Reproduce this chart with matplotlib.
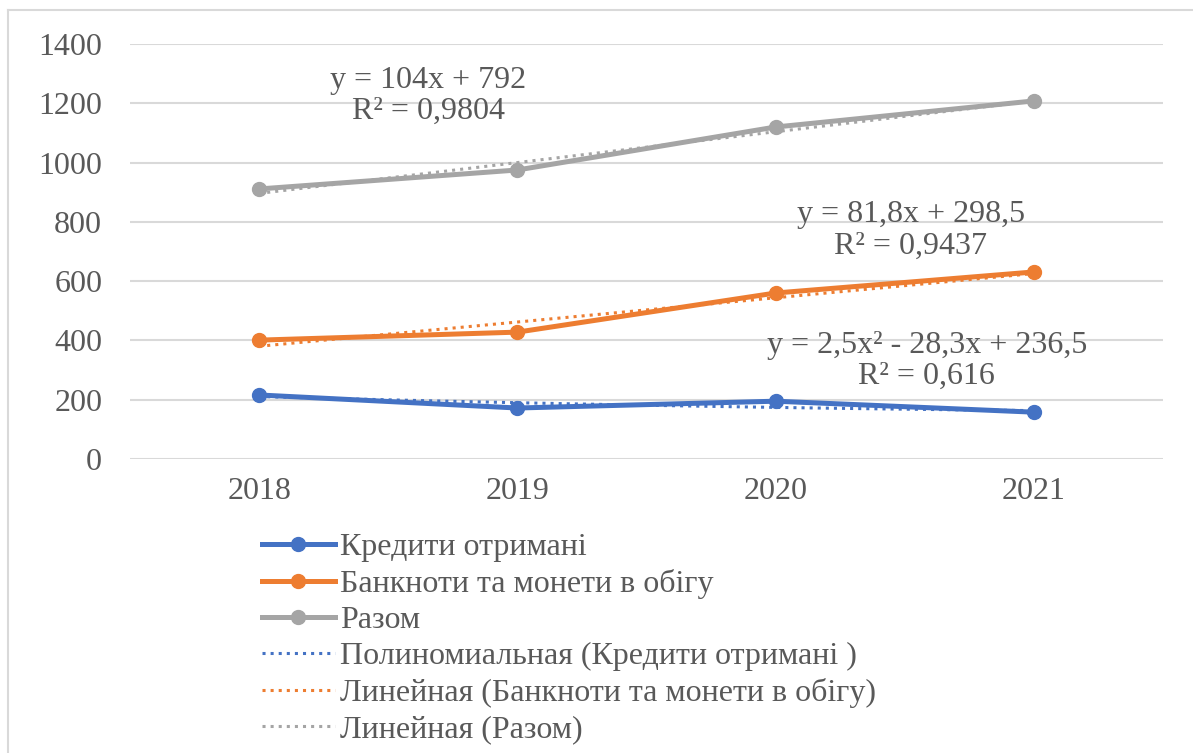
import matplotlib.pyplot as plt
from matplotlib.lines import Line2D
import numpy as np

years = ['2018', '2019', '2020', '2021']
credits = [216, 172, 195, 158]
banknotes = [401, 428, 560, 631]
total = [911, 975, 1120, 1208]

# trendline coefficients as printed on the chart (highest power first)
credits_poly = [2.5, -28.3, 236.5]
banknotes_lin = [81.8, 298.5]
total_lin = [104, 792]

names = ['Кредити отримані', 'Банкноти та монети в обігу', 'Разом',
         'Полиномиальная (Кредити отримані )',
         'Линейная (Банкноти та монети в обігу)', 'Линейная (Разом)']

blue, orange, grey = '#4472C4', '#ED7D31', '#A5A5A5'
txt = '#595959'
fs = 23

plt.rcParams['font.family'] = ['Liberation Serif', 'DejaVu Serif']

fig = plt.figure(figsize=(11.93, 7.53), dpi=100)
ax = fig.add_axes([130 / 1193, 1 - 459 / 753, 1033 / 1193, 415 / 753])

x = np.arange(1, 5)
xs = np.linspace(1, 4, 50)

ax.plot(xs, np.polyval(credits_poly, xs), ':', color=blue, lw=2.2, zorder=2)
ax.plot(xs, np.polyval(banknotes_lin, xs), ':', color=orange, lw=2.2, zorder=2)
ax.plot(xs, np.polyval(total_lin, xs), ':', color=grey, lw=2.2, zorder=2)

ax.plot(x, credits, '-o', color=blue, lw=3.6, ms=10, zorder=3)
ax.plot(x, banknotes, '-o', color=orange, lw=3.6, ms=10, zorder=3)
ax.plot(x, total, '-o', color=grey, lw=3.6, ms=10, zorder=3)

ax.set_xlim(0.5, 4.5)
ax.set_ylim(0, 1400)
ax.set_yticks(range(0, 1401, 200))
ax.set_xticks(x)
ax.set_xticklabels(years)
ax.grid(axis='y', color='#D9D9D9', lw=1.5)
ax.set_axisbelow(True)
for s in ax.spines.values():
    s.set_visible(False)
ax.tick_params(length=0, labelsize=fs, labelcolor=txt)
ax.tick_params(axis='y', pad=20)
ax.tick_params(axis='x', pad=13)

ax.text(1.655, 1225, 'y = 104x + 792\nR² = 0,9804', ha='center', va='center',
        fontsize=fs, color=txt, linespacing=1.1)
ax.text(3.523, 771, 'y = 81,8x + 298,5\nR² = 0,9437', ha='center', va='center',
        fontsize=fs, color=txt, linespacing=1.1)
ax.text(3.585, 331, 'y = 2,5x² - 28,3x + 236,5\nR² = 0,616', ha='center', va='center',
        fontsize=fs, color=txt, linespacing=1.1)

handles = [
    Line2D([], [], color=blue, lw=3.6, marker='o', ms=10),
    Line2D([], [], color=orange, lw=3.6, marker='o', ms=10),
    Line2D([], [], color=grey, lw=3.6, marker='o', ms=10),
    Line2D([], [], color=blue, lw=2.2, ls=':'),
    Line2D([], [], color=orange, lw=2.2, ls=':'),
    Line2D([], [], color=grey, lw=2.2, ls=':'),
]
leg = fig.legend(handles, names, loc='upper left', bbox_to_anchor=(262 / 1193, 1 - 533 / 753),
                 frameon=False, fontsize=fs, handlelength=2.28, handletextpad=0.16,
                 labelspacing=0.21, borderpad=0, borderaxespad=0)
for t in leg.get_texts():
    t.set_color(txt)

# outer chart border (top and left visible)
fig.add_artist(Line2D([8 / 1193, 1], [1 - 10 / 753, 1 - 10 / 753], color='#D9D9D9', lw=1.5))
fig.add_artist(Line2D([8 / 1193, 8 / 1193], [0, 1 - 10 / 753], color='#D9D9D9', lw=1.5))

fig.savefig('out.png', dpi=100)
